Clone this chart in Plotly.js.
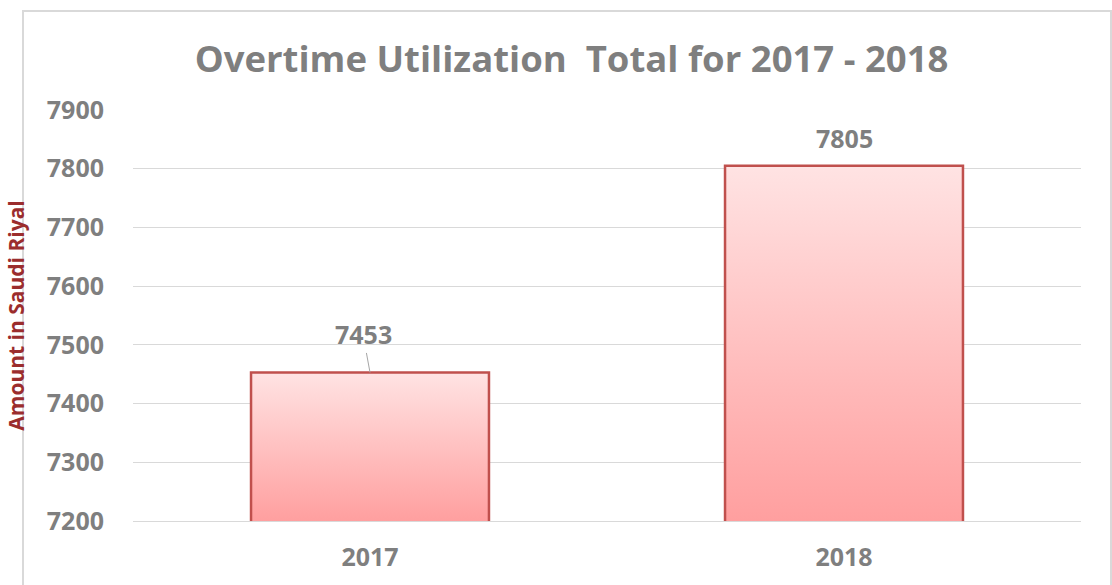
<!DOCTYPE html>
<html>
<head>
<meta charset="utf-8">
<script src="https://cdn.plot.ly/plotly-3.0.1.min.js"></script>
<style>html,body{margin:0;padding:0;background:#fff;}#chart{width:1112px;height:585px;}</style>
</head>
<body>
<div id="chart"></div>
<script>
const categories = ["2017", "2018"];
const values = [7453, 7805];
const yTicks = [7200, 7300, 7400, 7500, 7600, 7700, 7800, 7900];
const labelOffsetsX = [-7, 0];
const labelOffsetsY = [-38, -28];
const showLeader = [true, false];

const gray = "#7F7F7F";
const font = "Open Sans, Arial, sans-serif";

const trace = {
  type: "bar",
  x: categories,
  y: values,
  width: 0.502,
  marker: { color: "#FFC0C0", line: { color: "#C0504D", width: 2.5 } },
  hoverinfo: "none"
};

const annotations = categories.map((c, i) => ({
  x: i, y: values[i], xref: "x", yref: "y",
  text: String(values[i]),
  showarrow: true,
  arrowhead: 0, arrowwidth: 1,
  arrowcolor: showLeader[i] ? "#A6A6A6" : "rgba(0,0,0,0)",
  standoff: 0, startstandoff: 0,
  ax: labelOffsetsX[i], ay: labelOffsetsY[i],
  font: { family: font, size: 25, color: gray, weight: 700 }
}));

const layout = {
  width: 1112, height: 585,
  margin: { l: 133, r: 31, t: 110, b: 64 },
  paper_bgcolor: "#fff", plot_bgcolor: "#fff",
  showlegend: false,
  title: {
    text: "Overtime Utilization  Total for 2017 - 2018",
    font: { family: font, size: 36.5, color: gray, weight: 700 },
    x: 0.514, xref: "container", xanchor: "center",
    y: 1 - 59 / 585, yref: "container", yanchor: "middle"
  },
  xaxis: {
    type: "category",
    range: [-0.5, 1.5],
    showgrid: false, zeroline: false,
    showline: true, linecolor: "#D9D9D9", linewidth: 1,
    ticks: "", ticklabelstandoff: 14,
    tickfont: { family: font, size: 25, color: gray, weight: 700 }
  },
  yaxis: {
    range: [7200, 7900],
    tickvals: yTicks,
    ticktext: yTicks.map(String),
    showgrid: true, gridcolor: "#D9D9D9", gridwidth: 1,
    zeroline: false, showline: false,
    ticks: "", ticklabelstandoff: 28,
    tickfont: { family: font, size: 25, color: gray, weight: 700 },
    title: {
      text: "Amount in Saudi Riyal",
      font: { family: font, size: 21, color: "#9B2D2D", weight: 700 },
      standoff: 16
    }
  },
  annotations: annotations,
  shapes: [{
    type: "rect", xref: "paper", yref: "paper",
    x0: (23 - 133) / 948, x1: (1111 - 133) / 948,
    y0: -0.2, y1: 1 + (110 - 11) / 411,
    line: { color: "#D9D9D9", width: 2 }, fillcolor: "rgba(0,0,0,0)", layer: "below"
  }]
};

Plotly.newPlot("chart", [trace], layout, { displayModeBar: false, staticPlot: true }).then(gd => {
  const svg = gd.querySelector("svg.main-svg");
  const ns = "http://www.w3.org/2000/svg";
  let defs = svg.querySelector("defs");
  if (!defs) { defs = document.createElementNS(ns, "defs"); svg.insertBefore(defs, svg.firstChild); }
  const plotH = gd._fullLayout.yaxis._length;
  gd.querySelectorAll(".trace.bars .point path").forEach((p, i) => {
    const bb = p.getBBox();
    const lg = document.createElementNS(ns, "linearGradient");
    lg.setAttribute("id", "barGrad" + i);
    lg.setAttribute("gradientUnits", "userSpaceOnUse");
    lg.setAttribute("x1", "0"); lg.setAttribute("x2", "0");
    lg.setAttribute("y1", String(Math.max(bb.y, 0)));
    lg.setAttribute("y2", String(plotH));
    [["0%", "#FFE3E3"], ["100%", "#FF9F9F"]].forEach(([o, c]) => {
      const s = document.createElementNS(ns, "stop");
      s.setAttribute("offset", o); s.setAttribute("stop-color", c);
      lg.appendChild(s);
    });
    defs.appendChild(lg);
    p.style.fill = "url(#barGrad" + i + ")";
  });
});
</script>
</body>
</html>
